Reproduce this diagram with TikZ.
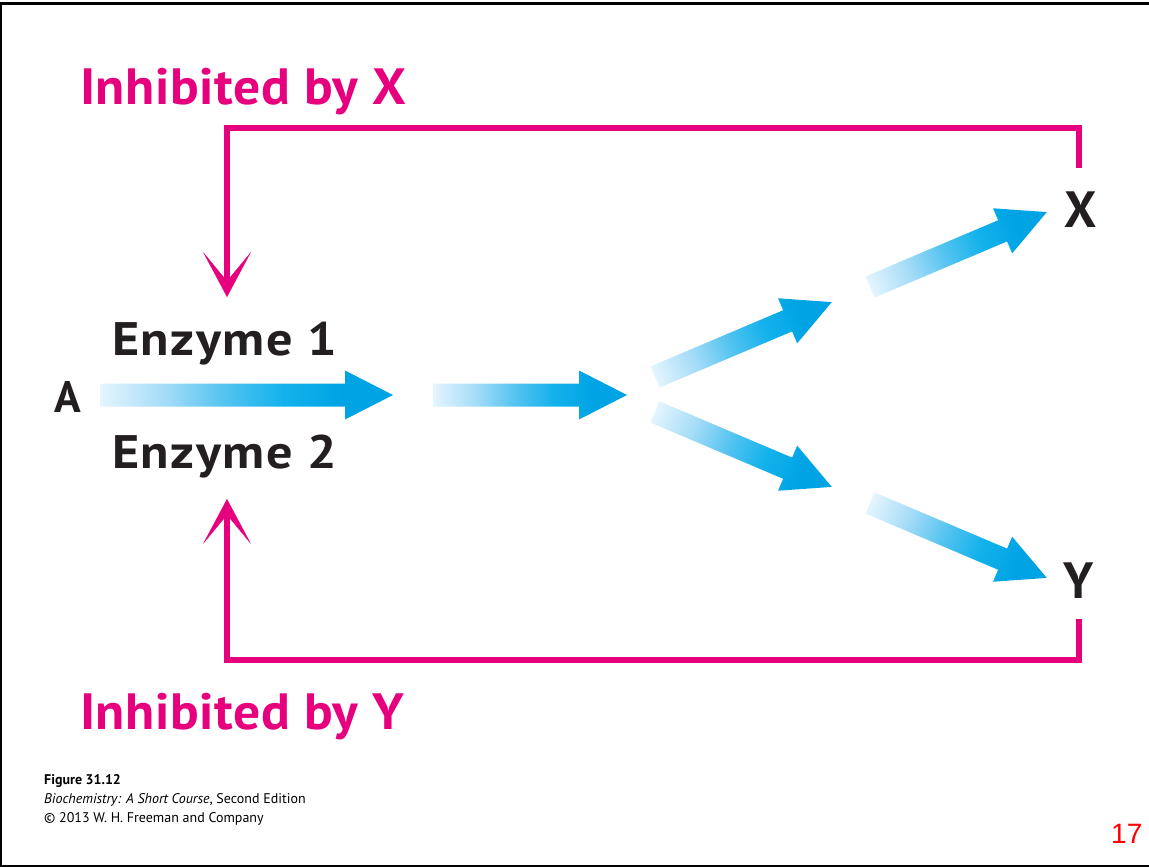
\documentclass[tikz,border=0pt]{standalone}
\usepackage{fontspec}
\usepackage{graphicx}
\setmainfont{PT Sans}
\newfontfamily\arialf{Liberation Sans}
\newfontfamily\titlefont[LetterSpace=1]{PT Sans}
\newfontfamily\enzfont[LetterSpace=3]{PT Sans}
\usetikzlibrary{arrows.meta}
\definecolor{inhibmag}{RGB}{230,0,126}
\definecolor{txtblack}{RGB}{35,31,32}
\definecolor{bgA}{RGB}{228,245,253}
\definecolor{bgB}{RGB}{165,220,247}
\definecolor{bgC}{RGB}{85,196,240}
\definecolor{bgD}{RGB}{20,178,236}
\definecolor{bgE}{RGB}{0,164,228}
\pgfdeclarehorizontalshading{bluegrad}{100bp}{color(0bp)=(bgA); color(25bp)=(bgA); color(36bp)=(bgB); color(46bp)=(bgC); color(56bp)=(bgD); color(66bp)=(bgE); color(100bp)=(bgE)}
\newcommand\bluearrowshape[4]{%
  \begin{scope}[transform canvas={shift={(#1,#2)}, rotate=#3}]
    \shade[shading=bluegrad] (0,-11.5) -- ({#4-48},-11.5) -- ({#4-48},-24.5) -- (#4,0) -- ({#4-48},24.5) -- ({#4-48},11.5) -- (0,11.5) -- cycle;
  \end{scope}}
\newcommand\widetitle[1]{\scalebox{1.05}[1]{#1}}
\newcommand\wideenz[1]{\scalebox{1.11}[1]{#1}}
\tikzset{
  inhib/.style={draw=inhibmag, line width=6pt, line join=miter, -{Stealth[length=45pt, width=48pt, inset=29pt, line width=0.3pt]}},
  titletext/.style={text=inhibmag, font=\titlefont\fontsize{51}{60}\selectfont\bfseries, inner sep=0pt, anchor=base west},
  enztext/.style={text=txtblack, font=\enzfont\fontsize{47}{56}\selectfont\bfseries, inner sep=0pt, anchor=base west},
  metab/.style={text=txtblack, font=\fontsize{51}{60}\selectfont\bfseries, inner sep=0pt, anchor=base west},
  foot/.style={text=black, font=\fontsize{14}{17}\selectfont, inner sep=0pt, anchor=base west}
}
\begin{document}
\begin{tikzpicture}[x=1pt, y=-1pt]
\useasboundingbox (0,0) rectangle (1149,867);
\draw[line width=2.5pt, black] (1,3.5) rectangle (1152,866);
% titles
\node[titletext] (tx) at (80,104) {\widetitle{Inhibited by X}};
\node[titletext] (ty) at (80,729) {\widetitle{Inhibited by Y}};
% labels
\node[enztext] (e1) at (112,355) {\wideenz{Enzyme 1}};
\node[enztext] (e2) at (112,468) {\wideenz{Enzyme 2}};
\node[metab, font=\fontsize{44}{52}\selectfont\bfseries] (A) at (54,412) {A};
\node[metab] (X) at (1064,227) {X};
\node[metab] (Y) at (1063,598) {Y};
% inhibition lines
\coordinate (xfoot) at (1078.5,168);
\coordinate (yfoot) at (1078.5,619);
\coordinate (e1tip) at (227,297);
\coordinate (e2tip) at (227,499);
\draw[inhib] (xfoot) -- (1078.5,128) -- (227,128) -- (e1tip);
\draw[inhib] (yfoot) -- (1078.5,659.5) -- (227,659.5) -- (e2tip);
% blue arrows
\bluearrowshape{100}{395}{0}{293}
\bluearrowshape{433}{395}{0}{194}
\bluearrowshape{655}{377}{22.96}{192}
\bluearrowshape{870}{287}{22.96}{192}
\bluearrowshape{655}{412}{-22.96}{192}
\bluearrowshape{870}{503}{-22.96}{192}
% footer
\node[foot, font=\fontsize{14}{17}\selectfont\bfseries] (f1) at (44,784) {Figure 31.12};
\node[foot] (f2) at (44,803) {\textit{Biochemistry: A Short Course}, Second Edition};
\node[foot] (f3) at (44,822) {\textcopyright\ 2013 W. H. Freeman and Company};
\node[inner sep=0pt, anchor=base west, text=red, font=\arialf\fontsize{28}{32}\selectfont] (pg) at (1111,843) {17};
\end{tikzpicture}
\end{document}
